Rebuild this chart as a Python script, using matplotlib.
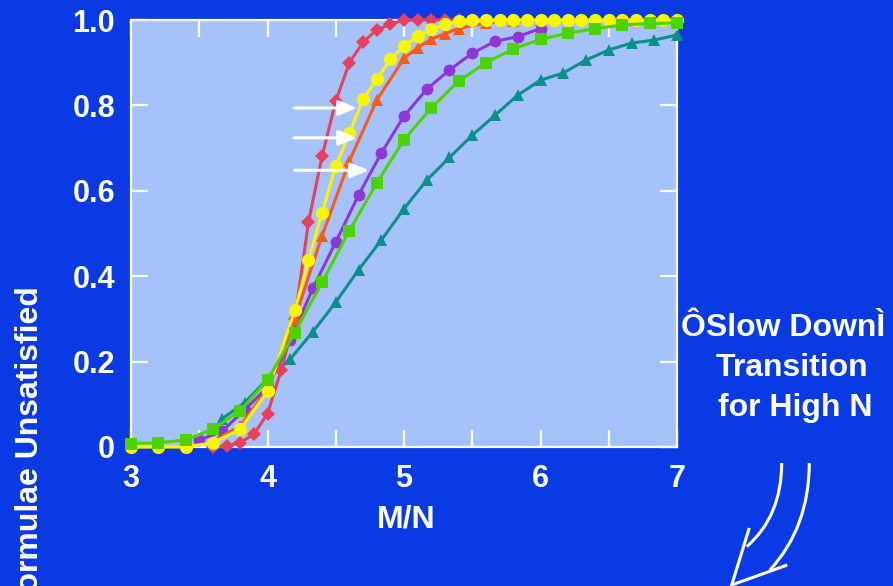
#!/usr/bin/env python3

import matplotlib
matplotlib.use("Agg")
import matplotlib.pyplot as plt
from matplotlib.patches import PathPatch
from matplotlib.path import Path
from matplotlib.ticker import MultipleLocator

# ---- data ----
red_x = [3.6, 3.7, 3.8, 3.9, 4.0, 4.1, 4.2, 4.3, 4.4, 4.5, 4.6, 4.7, 4.8, 4.9, 5.0, 5.1, 5.2, 5.3, 5.4, 5.5]
red_y = [0.0, 0.003, 0.01, 0.03, 0.078, 0.18, 0.30, 0.526, 0.681, 0.81, 0.90, 0.948, 0.977, 0.99, 1.0, 1.0, 1.0, 1.0, 1.0, 1.0]

yellow_x = [3.0, 3.2, 3.4, 3.6, 3.8, 4.0, 4.2, 4.3, 4.4, 4.5, 4.6, 4.7, 4.8, 4.9, 5.0, 5.1, 5.2, 5.3, 5.4,
            5.5, 5.6, 5.7, 5.8, 5.9, 6.0, 6.1, 6.2, 6.3, 6.4, 6.5, 6.6, 6.7, 6.8, 6.9, 7.0]
yellow_y = [0.0, 0.0, 0.0, 0.01, 0.042, 0.13, 0.32, 0.437, 0.549, 0.658, 0.735, 0.814, 0.861, 0.908, 0.939,
            0.962, 0.978, 0.99, 0.998, 1.0, 1.0, 1.0, 1.0, 1.0, 1.0, 1.0, 1.0, 1.0, 1.0, 1.0, 1.0, 1.0, 1.0, 1.0, 1.0]

orange_x = [3.6, 3.8, 4.0, 4.2, 4.4, 4.6, 4.8, 5.0, 5.1, 5.2, 5.3, 5.4, 5.6, 5.8, 6.0]
orange_y = [0.014, 0.049, 0.136, 0.30, 0.495, 0.67, 0.812, 0.91, 0.935, 0.955, 0.968, 0.98, 0.993, 0.997, 1.0]

purple_x = [3.5, 3.667, 3.833, 4.0, 4.167, 4.333, 4.5, 4.667, 4.833, 5.0, 5.167, 5.333, 5.5, 5.667, 5.833, 6.0]
purple_y = [0.016, 0.037, 0.087, 0.14, 0.25, 0.372, 0.48, 0.59, 0.688, 0.775, 0.838, 0.883, 0.922, 0.95, 0.961, 0.98]

green_x = [3.0, 3.2, 3.4, 3.6, 3.8, 4.0, 4.2, 4.4, 4.6, 4.8, 5.0, 5.2, 5.4, 5.6, 5.8, 6.0, 6.2, 6.4, 6.6, 6.8, 7.0]
green_y = [0.008, 0.01, 0.016, 0.042, 0.085, 0.157, 0.268, 0.386, 0.507, 0.618, 0.72, 0.794, 0.857, 0.90,
           0.932, 0.955, 0.969, 0.98, 0.988, 0.992, 0.993]

teal_x = [3.667, 3.833, 4.0, 4.167, 4.333, 4.5, 4.667, 4.833, 5.0, 5.167, 5.333, 5.5, 5.667, 5.833, 6.0,
          6.167, 6.333, 6.5, 6.667, 6.833, 7.0]
teal_y = [0.066, 0.104, 0.159, 0.206, 0.27, 0.339, 0.415, 0.484, 0.558, 0.625, 0.678, 0.73, 0.777, 0.824,
          0.859, 0.876, 0.906, 0.93, 0.946, 0.953, 0.965]

y_ticks = [0, 0.2, 0.4, 0.6, 0.8, 1.0]
y_tick_labels = ["0", "0.2", "0.4", "0.6", "0.8", "1.0"]
x_ticks = [3, 4, 5, 6, 7]

# arrows pointing at the curves: (start_x, end_x, y)
arrow_rows = [(4.195, 4.656, 0.794), (4.195, 4.656, 0.724), (4.20, 4.744, 0.648)]

BG = "#0a3ae4"
FACE = "#a5c3fa"
WHITE = "white"
W, H = 893, 586

plt.rcParams["font.family"] = ["Liberation Sans", "DejaVu Sans"]
plt.rcParams["font.weight"] = "bold"

fig = plt.figure(figsize=(W / 100, H / 100), dpi=100, facecolor=BG)
ax = fig.add_axes([131 / W, 1 - 447 / H, 546 / W, 427 / H])
ax.set_facecolor(FACE)

series = [
    (teal_x, teal_y, "#0b8f8a", "^", 9),
    (purple_x, purple_y, "#8f36d6", "o", 8.5),
    (red_x, red_y, "#e5415c", "D", 7),
    (orange_x, orange_y, "#f85a1c", "^", 9),
    (yellow_x, yellow_y, "#faf600", "o", 9.5),
    (green_x, green_y, "#4cd400", "s", 8.5),
]
for xs, ys, color, marker, size in series:
    ax.plot(xs, ys, color=color, marker=marker, markersize=size, linewidth=2.2,
            markeredgewidth=0, clip_on=False, zorder=3)

for x0, x1, y in arrow_rows:
    ax.annotate("", xy=(x1, y), xytext=(x0, y),
                arrowprops=dict(arrowstyle="-|>,head_length=1.1,head_width=0.45",
                                color=WHITE, lw=2.2, shrinkA=0, shrinkB=0), zorder=4)

ax.set_xlim(3, 7)
ax.set_ylim(0, 1)
ax.set_xticks(x_ticks)
ax.set_xticklabels([str(v) for v in x_ticks])
ax.xaxis.set_minor_locator(MultipleLocator(0.5))
ax.set_yticks(y_ticks)
ax.set_yticklabels(y_tick_labels)

for spine in ax.spines.values():
    spine.set_color(WHITE)
    spine.set_linewidth(1.6)

ax.tick_params(which="both", direction="in", color=WHITE, width=1.6, length=12,
               top=True, right=True, labelcolor=WHITE, labelsize=22)
ax.tick_params(axis="y", pad=11.5)
ax.tick_params(axis="x", pad=12)

fig.text(406 / W, 1 - 520 / H, "M/N", color=WHITE, fontsize=23, fontweight="bold",
         ha="center", va="center")

fig.text(30 / W, 1 - 286 / H, "Formulae Unsatisfied", rotation=90,
         color=WHITE, fontsize=23, fontweight="bold", ha="center", va="top")

side_lines = [("ÔSlow DownÌ", 783, 328), ("Transition", 792, 368), ("for High N", 795, 408)]
for text, cx, cy in side_lines:
    fig.text(cx / W, 1 - cy / H, text, color=WHITE, fontsize=23, fontweight="bold",
             ha="center", va="center")


# hollow hand-drawn arrow at bottom right (pixel coords -> figure fraction)
def fpt(x, y):
    return (x / W, 1 - y / H)


strokes = [
    ([fpt(781.7, 463), fpt(781.7, 516), fpt(746.7, 546.7)], [Path.MOVETO, Path.CURVE3, Path.CURVE3]),
    ([fpt(809.3, 463), fpt(809.3, 527), fpt(770, 570)], [Path.MOVETO, Path.CURVE3, Path.CURVE3]),
    ([fpt(749.3, 528), fpt(731.7, 585), fpt(787.3, 565)], [Path.MOVETO, Path.LINETO, Path.LINETO]),
]
for verts, codes in strokes:
    fig.patches.append(PathPatch(Path(verts, codes), transform=fig.transFigure,
                                 facecolor="none", edgecolor=WHITE, lw=2.2))

fig.savefig("out.png", dpi=100, facecolor=BG)
